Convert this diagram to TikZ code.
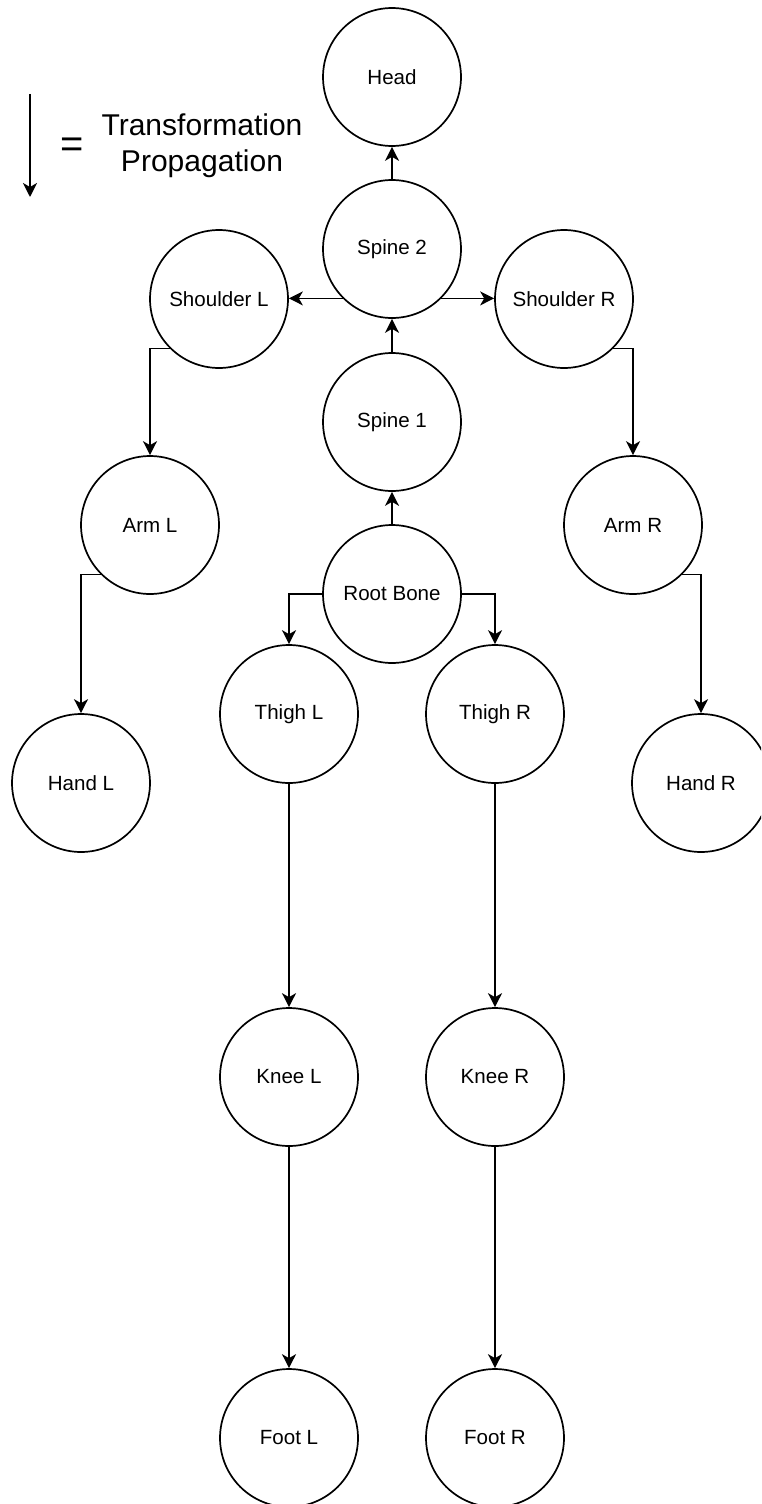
\documentclass[tikz,border=0pt]{standalone}
\usepackage{fontspec}
\setmainfont{Liberation Sans}
\usetikzlibrary{arrows.meta}

\tikzset{
  bone/.style={circle, draw=black, line width=0.034cm, minimum size=2.76cm,
    inner sep=0pt, font=\fontsize{11.7}{14}\selectfont},
  link/.style={draw=black, line width=0.034cm,
    -{Stealth[length=0.28cm, width=0.28cm, inset=0.08cm]}},
}

\begin{document}
\begin{tikzpicture}[x=0.02cm, y=-0.02cm]
  \useasboundingbox (0,0) rectangle (761,1504);
  \clip (0,0) rectangle (761,1504);

  % legend
  \coordinate (lgtop) at (30,94);
  \coordinate (lgbot) at (30,197);
  \draw[link] (lgtop) -- (lgbot);
  \node (eq) at (72,148) {\fontsize{22.7}{26}\selectfont =};
  \node[align=center, font=\fontsize{17.1}{20.4}\selectfont] (lgtext) at (202,146)
    {Transformation\\Propagation};

  % skeleton joints
  \node[bone] (head)   at (392,77)   {Head};
  \node[bone] (spine2) at (392,249)  {Spine 2};
  \node[bone] (shL)    at (219,299)  {Shoulder L};
  \node[bone] (shR)    at (564,299)  {Shoulder R};
  \node[bone] (spine1) at (392,422)  {Spine 1};
  \node[bone] (armL)   at (150,525)  {Arm L};
  \node[bone] (armR)   at (633,525)  {Arm R};
  \node[bone] (root)   at (392,594)  {Root Bone};
  \node[bone] (thighL) at (289,714)  {Thigh L};
  \node[bone] (thighR) at (495,714)  {Thigh R};
  \node[bone] (handL)  at (81,783)   {Hand L};
  \node[bone] (handR)  at (701,783)  {Hand R};
  \node[bone] (kneeL)  at (289,1077) {Knee L};
  \node[bone] (kneeR)  at (495,1077) {Knee R};
  \node[bone] (footL)  at (289,1438) {Foot L};
  \node[bone] (footR)  at (495,1438) {Foot R};

  % spine chain
  \draw[link] (root.north) -- (spine1.south);
  \draw[link] (spine1.north) -- (spine2.south);
  \draw[link] (spine2.north) -- (head.south);

  % shoulders
  \draw[link] (spine2.-135) -- (spine2.-135 -| shL.east);
  \draw[link] (spine2.-45) -- (spine2.-45 -| shR.west);

  % arms
  \draw[link] (shL.225) -| (armL.north);
  \draw[link] (armL.225) -| (handL.north);
  \draw[link] (shR.-45) -| (armR.north);
  \draw[link] (armR.-45) -| (handR.north);

  % legs
  \draw[link] (root.west) -| (thighL.north);
  \draw[link] (root.east) -| (thighR.north);
  \draw[link] (thighL.south) -- (kneeL.north);
  \draw[link] (thighR.south) -- (kneeR.north);
  \draw[link] (kneeL.south) -- (footL.north);
  \draw[link] (kneeR.south) -- (footR.north);
\end{tikzpicture}
\end{document}
